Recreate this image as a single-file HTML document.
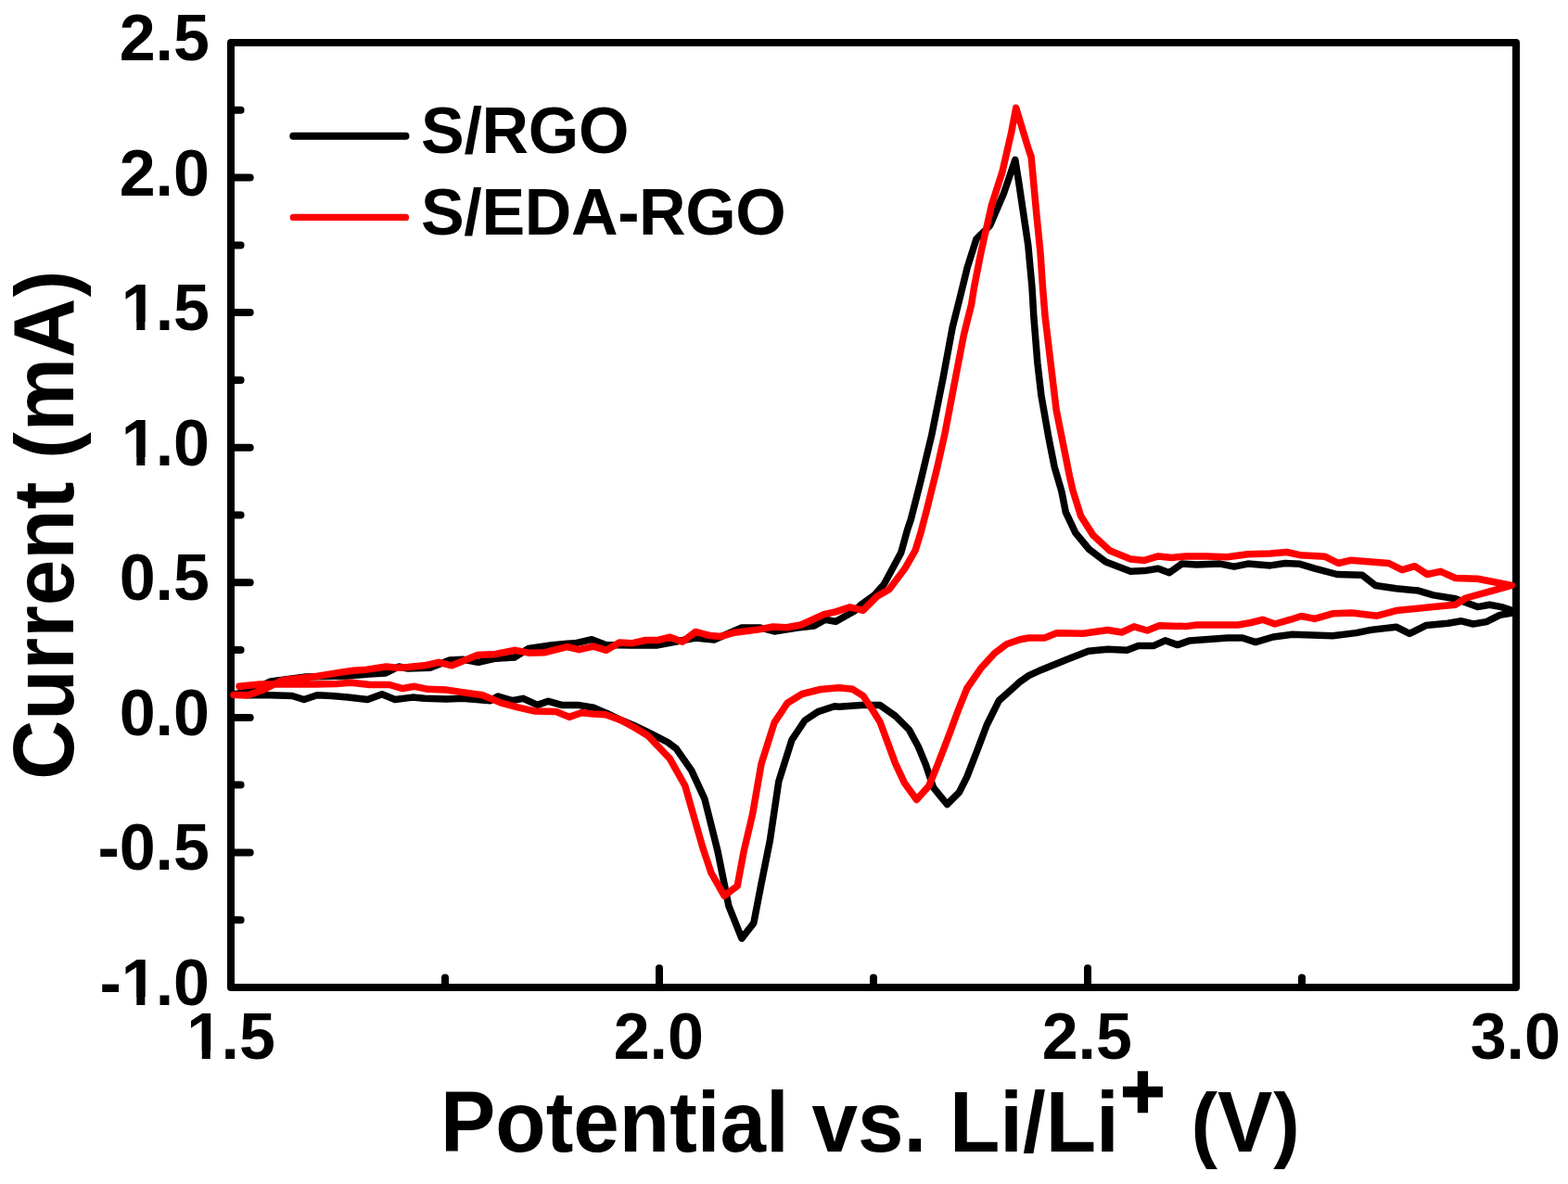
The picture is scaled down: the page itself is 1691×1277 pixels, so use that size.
<!DOCTYPE html>
<html><head><meta charset="utf-8"><title>CV curves</title>
<style>html,body{margin:0;padding:0;background:#fff;}svg{display:block;}</style>
</head><body>
<svg width="1691" height="1277" viewBox="0 0 1691 1277">
<rect width="1691" height="1277" fill="#fff"/>
<g fill="none" stroke="#000" stroke-width="8" stroke-linecap="round" stroke-linejoin="round">
<rect x="249" y="46" width="1386" height="1019"/>
<path d="M249,118.8h10.6M249,191.6h20.7M249,264.4h10.6M249,337.1h20.7M249,409.9h10.6M249,482.7h20.7M249,555.5h10.6M249,628.3h20.7M249,701.1h10.6M249,773.9h20.7M249,846.6h10.6M249,919.4h20.7M249,992.2h10.6M480.0,1065v-10.6M711.0,1065v-20.7M942.0,1065v-10.6M1173.0,1065v-20.7M1404.0,1065v-10.6"/>
</g>
<g fill="none" stroke-linejoin="round" stroke-linecap="round" stroke-width="7.5">
<polyline stroke="#000" points="251.0,749.0 268.0,746.0 292.0,735.0 330.0,730.0 375.0,729.0 399.0,727.0 416.0,726.0 430.0,719.0 440.0,721.0 463.7,720.2 484.9,711.9 499.1,711.3 515.7,714.3 534.6,710.2 554.7,709.0 570.1,699.5 593.8,696.0 611.5,694.2 620.0,693.8 638.2,689.7 653.1,695.5 680.0,696.0 708.0,696.0 750.0,688.0 770.0,690.0 800.0,677.0 820.0,677.0 835.0,681.0 860.0,677.0 878.0,675.0 889.9,668.3 901.1,670.4 922.3,658.4 927.9,652.8 943.4,641.5 953.3,630.2 971.6,596.4 978.7,571.0 982.4,560.0 992.6,520.0 1004.8,469.0 1017.0,408.0 1027.2,353.0 1035.4,320.4 1040.4,300.0 1043.0,289.2 1052.9,257.9 1067.7,243.1 1082.5,208.6 1094.8,172.4 1099.0,198.7 1103.9,231.6 1108.8,264.5 1113.0,310.0 1114.8,340.7 1118.9,391.6 1122.9,426.3 1131.1,473.1 1137.2,503.7 1144.9,530.0 1149.3,552.3 1159.8,574.6 1174.6,592.5 1192.5,605.9 1219.3,616.3 1234.2,615.6 1249.0,613.3 1261.0,617.8 1274.3,608.1 1290.7,608.9 1316.0,608.1 1330.9,611.1 1345.8,608.1 1370.0,609.9 1386.0,607.5 1401.9,608.3 1417.9,613.1 1441.9,619.5 1469.0,620.3 1483.4,631.5 1505.7,634.7 1529.7,637.1 1545.6,641.9 1569.6,645.8 1593.5,654.6 1606.3,652.2 1619.1,654.6 1631.1,658.6 1631.1,661.0 1617.5,663.4 1603.1,670.6 1588.7,673.0 1576.0,669.8 1561.6,672.2 1537.7,674.6 1520.1,683.4 1505.7,676.2 1478.6,679.4 1462.6,682.6 1437.1,685.8 1393.8,684.3 1373.0,687.0 1354.1,692.6 1339.9,688.0 1323.8,688.0 1283.1,690.9 1269.9,695.6 1256.6,690.8 1243.8,696.6 1227.7,696.6 1215.4,701.3 1194.6,700.3 1173.8,702.2 1152.0,710.7 1137.8,716.4 1123.7,722.2 1109.5,728.7 1100.0,735.3 1092.1,742.5 1077.3,755.6 1064.2,782.0 1054.3,808.3 1042.8,837.9 1034.6,854.3 1021.4,867.5 1006.6,849.4 998.4,824.7 990.2,805.0 980.3,786.9 965.5,772.1 949.1,760.6 929.3,760.6 904.7,762.2 900.0,761.7 882.1,767.6 868.0,777.0 853.9,798.2 839.8,842.8 830.4,906.3 821.0,953.3 812.8,995.6 799.9,1012.1 785.8,976.8 774.0,918.0 759.9,861.6 745.8,831.1 729.4,807.6 720.0,800.5 711.4,796.2 697.2,788.8 683.0,782.2 668.8,776.3 654.6,769.5 640.0,763.3 623.3,760.4 605.6,760.4 591.4,756.3 579.6,760.4 564.2,753.3 552.4,755.7 537.0,751.0 528.7,755.7 499.1,753.3 481.4,753.9 457.7,753.3 445.0,752.1 426.0,754.5 412.0,748.8 396.4,754.5 375.1,752.1 357.4,750.4 342.0,749.8 327.8,754.5 315.0,750.5 282.8,749.5 267.5,749.8 251.0,749.0"/>
<polyline stroke="#f00" points="252.0,749.4 267.5,749.8 284.0,743.9 304.1,733.8 339.6,729.7 369.2,724.9 381.0,723.2 392.8,722.6 416.5,719.0 428.3,720.2 440.0,719.6 457.7,717.8 473.1,714.3 487.3,717.8 499.1,713.1 514.5,706.6 534.6,705.4 555.9,701.3 570.1,704.2 587.8,703.7 611.5,697.7 624.5,700.7 639.9,697.1 653.9,701.3 668.0,693.0 681.3,693.8 696.2,690.5 709.4,690.5 722.7,687.2 735.9,692.2 750.0,681.4 765.7,685.5 777.3,686.4 792.2,682.2 818.7,678.9 833.6,676.0 848.5,676.8 863.7,674.0 878.3,667.3 888.5,662.6 901.1,659.8 916.6,654.9 930.7,658.4 946.2,642.9 958.9,635.8 975.8,613.3 987.1,593.6 992.8,575.2 999.8,548.5 1010.9,503.7 1019.1,467.0 1029.2,414.0 1039.4,361.1 1047.6,328.5 1050.5,310.0 1057.8,272.7 1069.3,221.7 1080.9,185.5 1090.7,142.8 1095.7,116.4 1109.7,162.5 1112.1,169.1 1117.1,223.4 1122.0,272.7 1124.5,310.0 1127.0,340.7 1133.1,391.6 1139.2,442.6 1147.4,483.3 1153.5,513.8 1157.0,529.0 1165.7,556.8 1179.1,577.6 1197.0,594.0 1219.3,602.9 1234.2,604.4 1249.0,599.9 1263.9,601.4 1278.8,599.9 1301.1,599.9 1323.5,600.7 1345.8,597.7 1370.0,597.1 1387.6,595.5 1401.9,598.7 1429.1,600.3 1443.4,607.5 1456.2,604.3 1497.7,607.5 1512.1,614.7 1525.7,610.7 1539.2,619.5 1553.6,616.3 1569.6,623.5 1593.5,624.3 1630.3,631.5 1630.3,631.5 1609.5,637.1 1580.8,645.0 1569.6,652.2 1545.6,654.6 1505.7,658.6 1485.0,664.2 1457.8,661.0 1437.1,661.8 1417.9,667.4 1403.3,664.5 1391.9,668.2 1374.9,673.0 1361.6,668.3 1349.3,671.5 1335.1,674.0 1290.7,674.0 1278.4,675.6 1250.4,674.8 1237.2,680.0 1223.0,675.8 1209.7,682.0 1194.6,679.5 1168.1,683.3 1139.7,682.8 1126.5,688.0 1109.5,688.0 1100.0,689.8 1085.6,694.8 1072.4,704.7 1057.6,721.1 1042.8,742.5 1032.9,767.2 1021.4,798.4 1009.9,828.0 1001.7,847.7 988.5,862.5 975.4,844.4 965.5,823.1 949.1,778.7 940.8,765.5 931.0,750.7 919.5,743.3 904.7,741.7 885.0,743.5 865.0,748.5 849.2,758.2 835.1,779.4 821.0,824.0 811.6,878.1 802.2,918.0 795.2,955.6 781.1,966.2 767.0,941.5 757.6,913.3 738.8,847.5 722.3,818.1 698.8,793.5 686.2,785.7 669.7,776.6 653.1,770.8 640.0,769.9 626.9,768.7 613.9,773.4 599.7,767.5 576.0,766.9 558.3,762.8 540.5,758.1 520.4,749.8 499.1,746.8 480.2,743.9 461.3,743.3 447.1,740.3 440.0,741.5 434.2,742.7 420.0,738.5 398.8,738.5 378.6,736.2 363.3,737.4 339.6,738.0 310.0,738.0 280.5,738.0 258.0,740.2"/>
</g>
<path d="M316.3,146.7H437.5" stroke="#000" stroke-width="8" stroke-linecap="round"/>
<path d="M316.3,234.4H437.5" stroke="#f00" stroke-width="7.3" stroke-linecap="round"/>
<g font-family="'Liberation Sans', Arial, Helvetica, sans-serif" font-weight="bold" fill="#000">
<text transform="translate(128.69,65.0) scale(1,1.0)" font-size="70">2.5</text>
<text transform="translate(128.69,210.6) scale(1,1.0)" font-size="70">2.0</text>
<text transform="translate(128.69,356.1) scale(1,1.0)" font-size="70"><tspan dx="2">1</tspan><tspan dx="-2">.5</tspan></text>
<text transform="translate(128.69,501.7) scale(1,1.0)" font-size="70"><tspan dx="2">1</tspan><tspan dx="-2">.0</tspan></text>
<text transform="translate(128.69,647.3) scale(1,1.0)" font-size="70">0.5</text>
<text transform="translate(128.69,792.9) scale(1,1.0)" font-size="70">0.0</text>
<text transform="translate(105.38,938.4) scale(1,1.0)" font-size="70">-0.5</text>
<text transform="translate(105.38,1084.0) scale(1,1.0)" font-size="70"><tspan dx="2">-1</tspan><tspan dx="-2">.0</tspan></text>
<text transform="translate(199.65,1142) scale(1,1.0)" font-size="70"><tspan dx="1.5">1</tspan><tspan dx="-1.5">.5</tspan></text>
<text transform="translate(661.65,1142) scale(1,1.0)" font-size="70">2.0</text>
<text transform="translate(1123.65,1142) scale(1,1.0)" font-size="70">2.5</text>
<text transform="translate(1585.65,1142) scale(1,1.0)" font-size="70">3.0</text>
</g><g fill="#fff">
<rect x="133.60" y="347.50" width="13.73" height="9.64"/>
<rect x="156.33" y="347.50" width="12.84" height="9.64"/>
<rect x="133.60" y="493.07" width="13.73" height="9.64"/>
<rect x="156.33" y="493.07" width="12.84" height="9.64"/>
<rect x="133.60" y="1075.36" width="13.73" height="9.64"/>
<rect x="156.33" y="1075.36" width="12.84" height="9.64"/>
<rect x="204.05" y="1133.36" width="13.73" height="9.64"/>
<rect x="226.79" y="1133.36" width="12.84" height="9.64"/>
</g><g font-family="'Liberation Sans', Arial, Helvetica, sans-serif" font-weight="bold" fill="#000">
<text x="454" y="165" font-size="70" textLength="224.4" lengthAdjust="spacing">S/RGO</text>
<text x="454" y="253" font-size="70" textLength="393.8" lengthAdjust="spacing">S/EDA-RGO</text>
<text transform="translate(475,1242) scale(1,1.04)" font-size="89">Potential vs. Li/Li<tspan x="733.80" y="-34.26" font-size="81" stroke="#000" stroke-width="2.4">+</tspan><tspan x="785.72" y="0" font-size="85.58"> (</tspan>V<tspan x="898.36" font-size="85.58">)</tspan></text>
<text transform="translate(79,841) rotate(-90) scale(1,1.04)" font-size="89">Current <tspan x="346.14" font-size="85.58">(</tspan><tspan x="375.77">mA</tspan><tspan x="520.68" font-size="85.58">)</tspan></text>
</g>
</svg>
</body></html>
